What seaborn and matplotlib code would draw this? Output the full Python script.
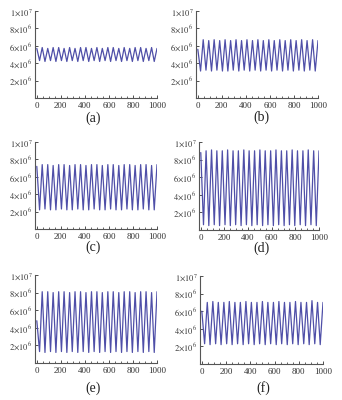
import numpy as np
import seaborn as sns
import matplotlib.pyplot as plt

# turning points of the oscillations (time) shared by all panels
t = [0, 23, 45, 68, 91, 114, 136, 159, 182, 205,
     227, 250, 273, 295, 318, 341, 364, 386, 409, 432,
     455, 477, 500, 523, 545, 568, 591, 614, 636, 659,
     682, 705, 727, 750, 773, 795, 818, 841, 864, 886,
     909, 932, 955, 977, 1000]

# values at the turning points, in units of 1e6
a = [5.7, 4.3, 5.8, 4.2, 5.7, 4.3, 5.8, 4.2, 5.8, 4.3,
     5.7, 4.2, 5.8, 4.3, 5.7, 4.2, 5.8, 4.3, 5.8, 4.2,
     5.7, 4.3, 5.8, 4.2, 5.7, 4.3, 5.8, 4.2, 5.8, 4.3,
     5.7, 4.2, 5.8, 4.3, 5.7, 4.2, 5.8, 4.3, 5.8, 4.2,
     5.7, 4.3, 5.8, 4.2, 5.7]
b = [5.6, 3.1, 6.7, 3.2, 6.6, 3.1, 6.7, 3.2, 6.6, 3.1,
     6.7, 3.1, 6.6, 3.2, 6.7, 3.1, 6.6, 3.2, 6.7, 3.1,
     6.6, 3.2, 6.7, 3.1, 6.6, 3.2, 6.7, 3.1, 6.6, 3.2,
     6.7, 3.1, 6.6, 3.2, 6.7, 3.1, 6.6, 3.2, 6.7, 3.1,
     6.6, 3.2, 6.7, 3.1, 6.6]
c = [7.2, 2.2, 7.4, 2.3, 7.4, 2.2, 7.3, 2.2, 7.4, 2.3,
     7.4, 2.2, 7.3, 2.2, 7.4, 2.3, 7.4, 2.2, 7.3, 2.2,
     7.4, 2.3, 7.4, 2.2, 7.3, 2.2, 7.4, 2.3, 7.4, 2.2,
     7.3, 2.2, 7.4, 2.3, 7.4, 2.2, 7.3, 2.2, 7.4, 2.3,
     7.4, 2.2, 7.3, 2.2, 7.4]
d = [8.8, 0.6, 9.0, 0.5, 9.1, 0.6, 9.0, 0.5, 9.0, 0.6,
     9.1, 0.5, 9.0, 0.6, 9.0, 0.5, 9.1, 0.6, 9.0, 0.5,
     9.0, 0.6, 9.1, 0.5, 9.0, 0.6, 9.0, 0.5, 9.1, 0.6,
     9.0, 0.5, 9.0, 0.6, 9.1, 0.5, 9.0, 0.6, 9.0, 0.5,
     9.1, 0.6, 9.0, 0.5, 9.0]
e = [4.8, 1.3, 8.1, 1.2, 8.1, 1.3, 8.0, 1.2, 8.1, 1.3,
     8.1, 1.2, 8.0, 1.3, 8.1, 1.2, 8.1, 1.3, 8.0, 1.2,
     8.1, 1.3, 8.1, 1.2, 8.0, 1.3, 8.1, 1.2, 8.1, 1.3,
     8.0, 1.2, 8.1, 1.3, 8.1, 1.2, 8.0, 1.3, 8.1, 1.2,
     8.1, 1.3, 8.0, 1.2, 8.1]
f = [6.0, 2.3, 7.0, 2.2, 7.1, 2.3, 7.0, 2.2, 7.0, 2.3,
     7.1, 2.2, 7.0, 2.3, 7.0, 2.2, 7.1, 2.3, 7.0, 2.2,
     7.0, 2.3, 7.1, 2.2, 7.0, 2.3, 7.0, 2.2, 7.1, 2.3,
     7.0, 2.2, 7.0, 2.3, 7.1, 2.2, 7.0, 2.3, 7.0, 2.2,
     7.2, 2.3, 7.0, 2.2, 7.0]

series = [a, b, c, d, e, f]
captions = ['(a)', '(b)', '(c)', '(d)', '(e)', '(f)']
yticks = [2e6, 4e6, 6e6, 8e6, 1e7]
ylabels = [r'$2{\times}10^{6}$', r'$4{\times}10^{6}$', r'$6{\times}10^{6}$',
           r'$8{\times}10^{6}$', r'$1{\times}10^{7}$']

sns.set_style('ticks')
plt.rcParams['font.family'] = ['Liberation Serif', 'DejaVu Serif']
plt.rcParams['mathtext.fontset'] = 'stix'

W, H = 342, 400
fig = plt.figure(figsize=(W / 100, H / 100), dpi=100)

# axes boxes in pixels: left, right, top, bottom ; caption centre x, y
boxes = [(35, 157, 11, 98, 93, 118),
         (196, 318, 11, 98, 261, 117),
         (35, 157, 142, 229, 93, 247),
         (199, 319, 142, 230, 262, 248),
         (35, 157, 275, 363, 93, 388),
         (200, 323, 276, 364, 263, 388)]

for vals, cap, (l, r, tp, bt, cx, cy) in zip(series, captions, boxes):
    ax = fig.add_axes([l / W, 1 - bt / H, (r - l) / W, (bt - tp) / H])
    sns.lineplot(x=t, y=np.array(vals) * 1e6, ax=ax, color='#4f4fa8',
                 linewidth=0.9)
    ax.set_xlim(-15, 1000)
    ax.set_ylim(0, 1e7)
    ax.set_xticks([0, 200, 400, 600, 800, 1000])
    ax.set_xticks(np.arange(0, 1001, 50), minor=True)
    ax.set_yticks(yticks)
    ax.set_yticklabels(ylabels)
    ax.tick_params(direction='in', length=2.5, width=0.6, pad=2,
                   colors='#333333')
    ax.tick_params(axis='x', labelsize=6.5, pad=3)
    ax.tick_params(axis='y', labelsize=6)
    ax.tick_params(which='minor', direction='in', length=1.2, width=0.5)
    sns.despine(ax=ax)
    for s in ['left', 'bottom']:
        ax.spines[s].set_linewidth(0.8)
        ax.spines[s].set_color('#555555')
    fig.text(cx / W, 1 - cy / H, cap, ha='center', va='center', fontsize=10,
             color='#222222')

fig.savefig('out.png', dpi=100, facecolor='white')
